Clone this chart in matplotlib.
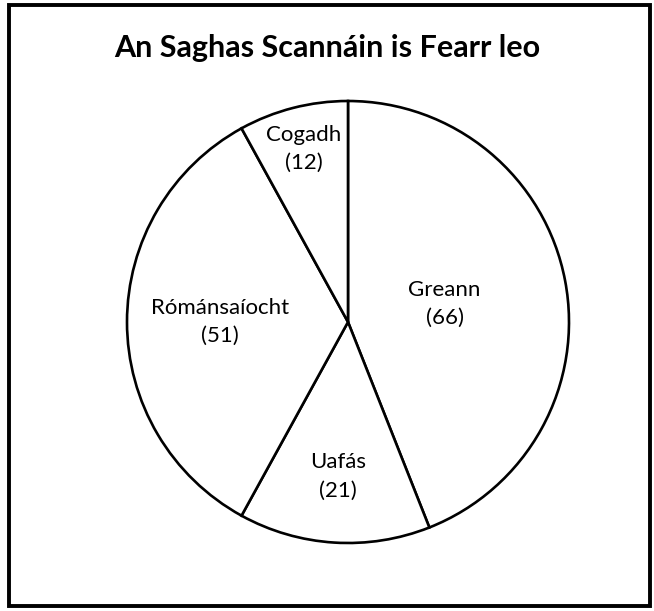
import numpy as np
import matplotlib.pyplot as plt
from matplotlib.patches import Rectangle

categories = ["Greann", "Uafás", "Rómánsaíocht", "Cogadh"]
values = [66, 21, 51, 12]
title = "An Saghas Scannáin is Fearr leo"

W, H = 654, 611
fig = plt.figure(figsize=(W / 100, H / 100), dpi=100)
fig.patch.set_facecolor("white")

# border
fig.add_artist(Rectangle((9 / W, 5 / H), (650 - 9) / W, (606 - 5) / H,
                         transform=fig.transFigure, fill=False,
                         edgecolor="black", linewidth=2.8))

cx, cy, R = 348, 322, 221
ax = fig.add_axes([(cx - R) / W, (H - cy - R) / H, 2 * R / W, 2 * R / H])

wedges, _ = ax.pie(values, startangle=90, counterclock=False, radius=1,
                   colors=["white"] * len(values),
                   wedgeprops=dict(edgecolor="black", linewidth=1.9))
ax.set_xlim(-1, 1)
ax.set_ylim(-1, 1)
ax.axis("off")

label_r = [0.445, 0.70, 0.58, 0.81]
total = sum(values)
ang = 90.0
for cat, v, r in zip(categories, values, label_r):
    span = 360.0 * v / total
    mid = np.deg2rad(ang - span / 2)
    ang -= span
    ax.text(r * np.cos(mid), r * np.sin(mid), f"{cat}\n({v})",
            ha="center", va="center", fontsize=16, family="Lato",
            linespacing=1.5)

fig.text(0.5, (H - 48) / H, title, ha="center", va="center",
         fontsize=22, fontweight="bold", family="Lato")

fig.savefig("out.png", dpi=100)
